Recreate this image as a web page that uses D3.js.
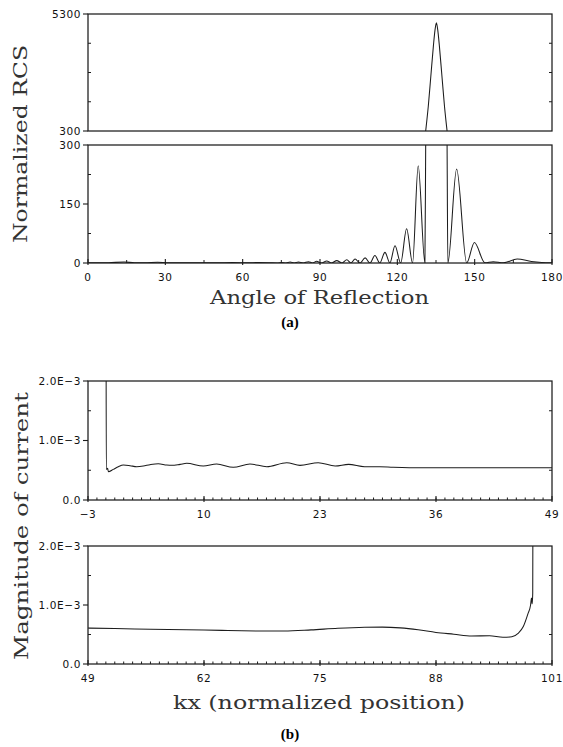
<!DOCTYPE html>
<html><head><meta charset="utf-8">
<script src="https://cdn.jsdelivr.net/npm/d3@7"></script>
<style>body{margin:0;background:#fff}</style>
</head><body><svg id="c" width="563" height="747"></svg>
<script>
// ---------- DATA ----------
// (a) Normalized RCS vs angle of reflection
const rcsAngle = [0, 8, 14, 18, 22, 27, 31, 40, 50, 56, 62, 66, 70,
  73.4, 75.1, 76.8, 78.4, 80.0, 81.6, 83.5, 85.5, 87.1, 88.7, 90.6, 92.6, 94.5, 96.5,
  98.5, 100.4, 102.0, 103.6, 105.5, 107.5, 109.4, 111.3, 113.2, 115.2, 117.1, 119.1,
  121.3, 123.6, 125.9, 128.1, 130.7,
  131.0, 132, 133, 134, 134.6, 135.15, 135.7, 136.3, 137.3, 138.3, 139.3, 139.6,
  143.0, 146.9, 149.9, 154.0, 157.2, 161.1, 166.5, 172, 176, 180];
const rcsValue = [0.3, 0.8, 2.5, 0.8, 0.5, 1.8, 0.4, 0.8, 0.4, 1.0, 0.5, 1.2, 0.8,
  0.1, 1.5, 0.1, 2.5, 0.1, 2.5, 0.1, 3.4, 0.1, 4.2, 0.1, 5, 0.1, 6,
  0.1, 8.5, 0.1, 10, 0.1, 13, 0.1, 19, 0.1, 27, 0.1, 44,
  0.1, 87, 0.1, 247, 0,
  300, 1350, 2650, 3950, 4600, 4920, 4600, 3950, 2650, 1350, 300, 0,
  239, 0.2, 52, 0.3, 3.4, 0.5, 10, 4, 1.5, 0.5];
const angleTicks = [0, 30, 60, 90, 120, 150, 180];
const rcsUpperTicks = [300, 5300];
const rcsLowerTicks = [0, 150, 300];

// (b) Magnitude of current vs kx  (values in units of 1E-3)
const kxLeft = [-0.97, -0.95, -0.80, -0.72, -0.16, 0.40, 0.96, 1.71, 2.46, 3.20, 3.95, 4.88,
  5.82, 6.38, 7.31, 8.06, 9.92, 11.42, 13.28, 15.15, 17.03, 19.27, 20.76, 22.8, 24.7,
  26.2, 28.0, 29.7, 31.2, 33, 40, 49];
const curLeft = [2.4, 0.515, 0.532, 0.476, 0.515, 0.560, 0.588, 0.577, 0.560, 0.571, 0.594, 0.610,
  0.588, 0.583, 0.599, 0.616, 0.571, 0.605, 0.549, 0.605, 0.560, 0.627, 0.582, 0.627, 0.571,
  0.599, 0.560, 0.560, 0.549, 0.543, 0.543, 0.543];
const kxRight = [49, 52, 56, 60, 64, 68, 71, 74, 77, 80, 82, 84, 86, 88, 90, 92, 94, 95.5,
  96.5, 97.2, 97.8, 98.3, 98.6, 98.7, 98.78, 98.84, 98.86];
const curRight = [0.609, 0.600, 0.590, 0.580, 0.570, 0.560, 0.558, 0.578, 0.605, 0.622, 0.625, 0.612,
  0.580, 0.535, 0.505, 0.475, 0.478, 0.452, 0.462, 0.520, 0.640, 0.850, 1.00, 1.12, 1.02, 1.20, 2.5];
const kxLeftTicks = [-3, 10, 23, 36, 49];
const kxRightTicks = [49, 62, 75, 88, 101];
const curTicks = [0, 1e-3, 2e-3];
const curTickLabels = ["0.0", "1.0E\u22123", "2.0E\u22123"];

// ---------- DRAWING ----------
const svg = d3.select('#c');
const X0 = 88, X1 = 552;
const INK = '#1c1c1c';
let clipId = 0;

function panel(o) {
  const x = d3.scaleLinear().domain(o.xDomain).range([X0, X1]);
  const y = d3.scaleLinear().domain(o.yDomain).range([o.bottom, o.top]);
  const g = svg.append('g');
  const id = 'clip' + (clipId++);
  svg.append('clipPath').attr('id', id).append('rect')
    .attr('x', X0).attr('y', o.top).attr('width', X1 - X0).attr('height', o.bottom - o.top);

  const line = d3.line().x(d => x(d[0])).y(d => y(d[1])).curve(d3.curveMonotoneX);
  g.append('path').datum(d3.zip(o.xs, o.ys)).attr('d', line)
    .attr('clip-path', `url(#${id})`)
    .attr('fill', 'none').attr('stroke', INK).attr('stroke-width', 1.05);

  g.append('rect').attr('x', X0).attr('y', o.top).attr('width', X1 - X0).attr('height', o.bottom - o.top)
    .attr('fill', 'none').attr('stroke', INK).attr('stroke-width', 1.25);

  const yMinor = o.yMinor || [];
  yMinor.forEach(v => {
    g.append('line').attr('x1', X0).attr('x2', X0 + 3).attr('y1', y(v)).attr('y2', y(v)).attr('stroke', INK).attr('stroke-width', 1);
    g.append('line').attr('x1', X1).attr('x2', X1 - 3).attr('y1', y(v)).attr('y2', y(v)).attr('stroke', INK).attr('stroke-width', 1);
  });
  o.yTicks.forEach((v, i) => {
    g.append('line').attr('x1', X0 - 5).attr('x2', X0).attr('y1', y(v)).attr('y2', y(v)).attr('stroke', INK).attr('stroke-width', 1.1);
    g.append('text').attr('x', X0 - 7).attr('y', y(v)).attr('dy', '0.36em')
      .attr('text-anchor', 'end').attr('class', 'tick')
      .text(o.yLabels ? o.yLabels[i] : v);
  });

  if (o.xMinor) o.xMinor.forEach(v => {
    g.append('line').attr('x1', x(v)).attr('x2', x(v)).attr('y1', o.bottom).attr('y2', o.bottom - (o.minorLen || 2.5)).attr('stroke', INK).attr('stroke-width', 1);
  });
  if (o.xTicks) o.xTicks.forEach(v => {
    g.append('line').attr('x1', x(v)).attr('x2', x(v)).attr('y1', o.bottom + 2).attr('y2', o.bottom - 4).attr('stroke', INK).attr('stroke-width', 1.1);
    g.append('text').attr('x', x(v)).attr('y', o.bottom + 18)
      .attr('text-anchor', 'middle').attr('class', 'tick')
      .text(String(v).replace('-', '\u2212'));
  });
}

panel({xDomain: [0, 180], yDomain: [300, 5300], top: 14, bottom: 131,
  xs: rcsAngle, ys: rcsValue, yTicks: rcsUpperTicks, yMinor: [1550, 2800, 4050]});
panel({xDomain: [0, 180], yDomain: [0, 300], top: 145, bottom: 263,
  xs: rcsAngle, ys: rcsValue, yTicks: rcsLowerTicks, yMinor: [75, 225],
  xTicks: angleTicks, xMinor: d3.range(15, 180, 30), minorLen: 3});

const e3 = v => v * 1e-3;
panel({xDomain: [-3, 49], yDomain: [0, 2e-3], top: 381, bottom: 500,
  xs: kxLeft, ys: curLeft.map(e3), yTicks: curTicks, yLabels: curTickLabels, yMinor: [0.5e-3, 1.5e-3],
  xTicks: kxLeftTicks, xMinor: d3.range(-2, 49, 1)});
panel({xDomain: [49, 101], yDomain: [0, 2e-3], top: 546, bottom: 664,
  xs: kxRight, ys: curRight.map(e3), yTicks: curTicks, yLabels: curTickLabels, yMinor: [0.5e-3, 1.5e-3],
  xTicks: kxRightTicks, xMinor: d3.range(50, 101, 1)});

svg.selectAll('text.tick').attr('font-family', 'DejaVu Sans').attr('font-size', 10.5)
  .attr('letter-spacing', 0.6).attr('fill', '#111');

const serif = 'DejaVu Serif';
function title(txt, x, yb, len, rot) {
  const t = svg.append('text').attr('font-family', serif).attr('font-size', 19).attr('fill', '#333')
    .attr('text-anchor', 'middle').attr('textLength', len).attr('lengthAdjust', 'spacingAndGlyphs').text(txt);
  if (rot) t.attr('transform', `translate(${x},${yb}) rotate(-90)`);
  else t.attr('x', x).attr('y', yb);
}
title('Normalized  RCS', 27, 144, 198, true);
title('Angle of Reflection', 319.5, 304, 219, false);
title('Magnitude of current', 28, 526, 268, true);
title('kx (normalized position)', 319, 709, 292, false);

svg.append('text').attr('x', 290).attr('y', 327).attr('text-anchor', 'middle')
  .attr('font-family', 'Liberation Serif').attr('font-weight', 'bold').attr('font-size', 15).text('(a)');
svg.append('text').attr('x', 290).attr('y', 739).attr('text-anchor', 'middle')
  .attr('font-family', 'Liberation Serif').attr('font-weight', 'bold').attr('font-size', 15).text('(b)');
</script>
</body></html>
